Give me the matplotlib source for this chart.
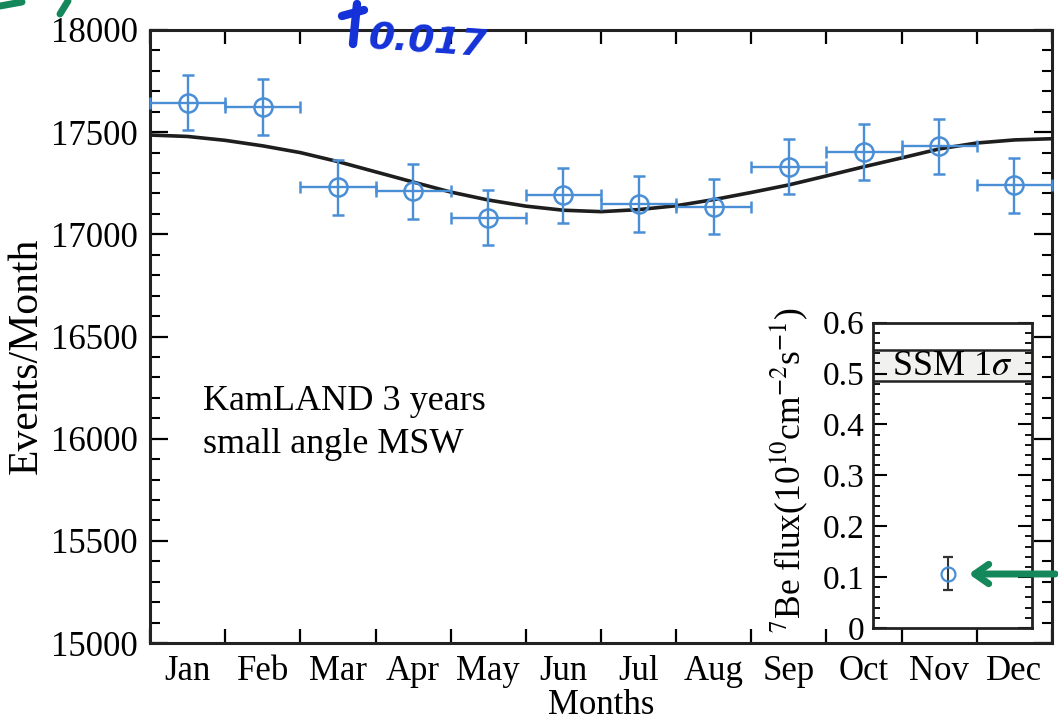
import numpy as np
import matplotlib
matplotlib.use("Agg")
import matplotlib.pyplot as plt
from matplotlib.ticker import FixedLocator, FixedFormatter, NullFormatter, MultipleLocator
from matplotlib.lines import Line2D
from matplotlib.patches import FancyArrowPatch

plt.rcParams['font.family'] = ['Liberation Serif', 'DejaVu Serif']
plt.rcParams['mathtext.fontset'] = 'stix'

# ---------------- data ----------------
months = ["Jan", "Feb", "Mar", "Apr", "May", "Jun", "Jul", "Aug", "Sep", "Oct", "Nov", "Dec"]
month_center = [0.5, 1.5, 2.5, 3.5, 4.5, 5.5, 6.5, 7.5, 8.5, 9.5, 10.5, 11.5]
month_edges = [0, 1, 2, 3, 4, 5, 6, 7, 8, 9, 10, 11, 12]
events = [17645, 17625, 17230, 17210, 17082, 17192, 17148, 17135, 17331, 17404, 17431, 17239]
events_err = [136, 137, 136, 135, 135, 135, 136, 135, 136, 137, 135, 133]
month_halfwidth = 0.5

# model curve (month position, events/month)
curve_t = [0, 0.5, 1, 1.5, 2, 2.5, 3, 3.5, 4, 4.5, 5, 5.5, 6, 6.5, 7, 7.5, 8, 8.5,
           9, 9.5, 10, 10.5, 11, 11.5, 12]
curve_v = [17486, 17479, 17460, 17433, 17400, 17356, 17306, 17256, 17207, 17168,
           17138, 17118, 17111, 17121, 17140, 17170, 17205, 17242, 17286, 17331,
           17374, 17418, 17447, 17462, 17468]

y_ticks = [15000, 15500, 16000, 16500, 17000, 17500, 18000]

# inset: 7Be flux
be_flux = [0.107]
be_err = [0.033]
be_x = [0.47]
ssm_low, ssm_high = 0.485, 0.547
inset_ticks = [0, 0.1, 0.2, 0.3, 0.4, 0.5, 0.6]
inset_labels = ["0", "0.1", "0.2", "0.3", "0.4", "0.5", "0.6"]

blue = "#4a8fd6"

# ---------------- figure ----------------
W, H = 1058, 722
fig = plt.figure(figsize=(W / 100, H / 100), dpi=100)
fig.patch.set_facecolor("white")

ax = fig.add_axes([150 / W, 1 - 643 / H, 902 / W, 613 / H])
ax.set_xlim(0, 12)
ax.set_ylim(15000, 18000)

ax.plot(curve_t, curve_v, color="#1e1e1e", lw=2.6, zorder=2, solid_capstyle="butt")
ax.errorbar(month_center, events, xerr=month_halfwidth, yerr=events_err, fmt="o",
            mfc="none", mec=blue, ms=13, mew=1.8, ecolor=blue, elinewidth=1.7,
            capsize=4, capthick=1.7, zorder=3, clip_on=False)

ax.xaxis.set_major_locator(FixedLocator(month_edges))
ax.xaxis.set_major_formatter(NullFormatter())
ax.xaxis.set_minor_locator(FixedLocator(month_center))
ax.xaxis.set_minor_formatter(FixedFormatter(months))
ax.yaxis.set_major_locator(FixedLocator(y_ticks))
ax.yaxis.set_minor_locator(MultipleLocator(100))

ax.tick_params(axis="x", which="major", direction="in", length=10, width=1.6,
               top=True, bottom=True)
ax.tick_params(axis="x", which="minor", length=0, labelsize=25, pad=9)
ax.tick_params(axis="y", which="major", direction="in", length=13, width=1.6,
               left=True, right=True, labelsize=25, pad=9)
ax.tick_params(axis="y", which="minor", direction="in", length=7, width=1.5,
               left=True, right=True)
for s in ax.spines.values():
    s.set_linewidth(2.2)
    s.set_color("#222222")

ax.set_xlabel("Months", fontsize=25, labelpad=0)
fig.text(27 / W, 1 - 356 / H, "Events/Month", rotation=90, fontsize=30,
         ha="center", va="center")

ax.text(0.0588, 0.38, "KamLAND 3 years", transform=ax.transAxes, fontsize=26,
        va="baseline", ha="left")
ax.text(0.0588, 0.31, "small angle MSW", transform=ax.transAxes, fontsize=26,
        va="baseline", ha="left")

# ---------------- inset ----------------
axin = fig.add_axes([873 / W, 1 - 628 / H, 159 / W, 305.3 / H])
axin.set_facecolor("white")
axin.set_xlim(0, 1)
axin.set_ylim(0, 0.6)
axin.axhspan(ssm_low, ssm_high, color="#f1f1ef", zorder=0)
axin.axhline(ssm_low, color="#222222", lw=1.8)
axin.axhline(ssm_high, color="#222222", lw=1.8)
axin.text(0.5, (ssm_low + ssm_high) / 2 - 0.002, r"SSM 1$\sigma$", ha="center",
          va="center", fontsize=26, zorder=5)
axin.errorbar(be_x, be_flux, yerr=be_err, fmt="o", mfc="none", mec=blue, ms=10,
              mew=1.6, ecolor="#333333", elinewidth=1.5, capsize=3.5, capthick=1.5)
axin.set_xticks([])
axin.yaxis.set_major_locator(FixedLocator(inset_ticks))
axin.yaxis.set_major_formatter(FixedFormatter(inset_labels))
axin.yaxis.set_minor_locator(MultipleLocator(0.02))
axin.tick_params(axis="y", which="major", direction="in", length=10, width=1.5,
                 left=True, right=True, labelsize=24, pad=6)
axin.tick_params(axis="y", which="minor", direction="in", length=5, width=1.3,
                 left=True, right=True)
for s in axin.spines.values():
    s.set_linewidth(2.0)
    s.set_color("#222222")
fig.text(790 / W, 1 - 470 / H,
         r"$^{7}$Be flux(10$^{10}$cm$^{-2}$s$^{-1}$)", rotation=90,
         fontsize=25.5, ha="center", va="center")

# ---------------- handwritten annotations ----------------
hblue = "#1432d8"
fig.add_artist(Line2D([353 / W, 357 / W], [1 - 44 / H, 1 - 4 / H], transform=fig.transFigure,
                      color=hblue, lw=6, solid_capstyle="round", zorder=10))
fig.add_artist(Line2D([342 / W, 364 / W], [1 - 16 / H, 1 - 10 / H], transform=fig.transFigure,
                      color=hblue, lw=6, solid_capstyle="round", zorder=10))
fig.text(367 / W, 1 - 43 / H, "0.017", color=hblue, fontsize=27, family="DejaVu Sans",
         fontweight="bold", style="oblique", va="center", ha="left", rotation=-4,
         zorder=10)

green = "#14885a"
fig.add_artist(FancyArrowPatch(posA=(1058 / W, 1 - 574 / H), posB=(966 / W, 1 - 574 / H),
                               transform=fig.transFigure,
                               arrowstyle="->,head_length=10,head_width=7",
                               color=green, lw=5, zorder=10))
fig.add_artist(Line2D([0, 22 / W], [1 - 6 / H, 1 - 2 / H], transform=fig.transFigure,
                      color=green, lw=5, solid_capstyle="round", zorder=10))
fig.add_artist(Line2D([60 / W, 68 / W], [1 - 14 / H, 1 - 1 / H], transform=fig.transFigure,
                      color=green, lw=5, solid_capstyle="round", zorder=10))

fig.savefig("out.png", dpi=100, facecolor="white")
